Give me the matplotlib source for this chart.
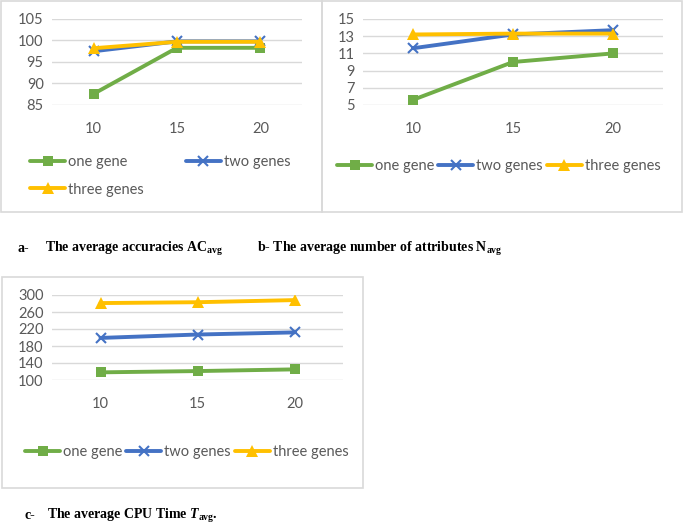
import matplotlib.pyplot as plt
from matplotlib.patches import Rectangle

plt.rcParams['font.family'] = ['Lato', 'DejaVu Sans']
plt.rcParams['mathtext.fontset'] = 'custom'
plt.rcParams['mathtext.rm'] = 'Liberation Serif:bold'
plt.rcParams['mathtext.bf'] = 'Liberation Serif:bold'
plt.rcParams['mathtext.it'] = 'Liberation Serif:bold:italic'

# Data
x_labels = ['10', '15', '20']
series_names = ['one gene', 'two genes', 'three genes']

acc_one = [87.6, 98.3, 98.3]
acc_two = [97.5, 99.8, 99.8]
acc_three = [98.2, 99.7, 99.7]

attr_one = [5.6, 10.0, 11.0]
attr_two = [11.6, 13.2, 13.7]
attr_three = [13.2, 13.3, 13.3]

cpu_one = [118, 121, 125]
cpu_two = [199, 207, 212]
cpu_three = [281, 283, 288]

GREEN = '#70AD47'
BLUE = '#4472C4'
YELLOW = '#FFC000'
GRID = '#D9D9D9'
TICK = '#595959'

W, H = 685, 525
fig = plt.figure(figsize=(W / 100, H / 100), dpi=100)


def px_axes(x0, y0, x1, y1):
    # pixel box (top-left origin) -> figure axes
    return fig.add_axes([x0 / W, 1 - y1 / H, (x1 - x0) / W, (y1 - y0) / H])


def px_box(x0, y0, x1, y1):
    fig.patches.append(Rectangle((x0 / W, 1 - y1 / H), (x1 - x0) / W, (y1 - y0) / H,
                                 transform=fig.transFigure, fill=False,
                                 edgecolor=GRID, linewidth=1.2))


def draw_panel(ax, data, yticks):
    pos = [0, 1, 2]
    styles = [(GREEN, 's', 7), (BLUE, 'x', 7), (YELLOW, '^', 8)]
    handles = []
    for vals, name, (c, m, ms) in zip(data, series_names, styles):
        h, = ax.plot(pos, vals, color=c, linewidth=2.8, marker=m, markersize=ms,
                     markerfacecolor=c, markeredgecolor=c,
                     markeredgewidth=1.5 if m == 'x' else 0, label=name,
                     solid_capstyle='round', zorder=3)
        handles.append(h)
    ax.set_xlim(-0.5, 2.5)
    ax.set_ylim(yticks[0], yticks[-1])
    ax.set_yticks(yticks)
    ax.set_xticks(pos)
    ax.set_xticklabels(x_labels)
    ax.grid(axis='y', color=GRID, linewidth=1)
    ax.set_axisbelow(True)
    for s in ax.spines.values():
        s.set_visible(False)
    ax.tick_params(length=0, labelsize=10.5, colors=TICK, pad=6)
    ax.tick_params(axis='x', pad=12)
    ax.patch.set_alpha(0)
    return handles


def add_legend(handles, labels, ncol, x, y, colsp, rowsp=0.5):
    fig.legend(handles, labels, ncol=ncol, loc='center left',
               bbox_to_anchor=(x / W, 1 - y / H), frameon=False, fontsize=10.5,
               handlelength=2.4, handletextpad=0.2, columnspacing=colsp,
               labelspacing=rowsp, labelcolor=TICK, borderpad=0, borderaxespad=0)


# panel a
px_box(1, 1, 322, 212)
ax_a = px_axes(52, 19, 302, 105)
h = draw_panel(ax_a, [acc_one, acc_two, acc_three], [85, 90, 95, 100, 105])
add_legend([h[0], h[2], h[1]], [series_names[0], series_names[2], series_names[1]],
           2, 30, 176, 2.9, 0.9)

# panel b
px_box(322, 1, 682, 212)
ax_b = px_axes(363, 19, 663, 105)
h = draw_panel(ax_b, [attr_one, attr_two, attr_three], [5, 7, 9, 11, 13, 15])
add_legend(h, series_names, 3, 337, 166, 0.27)

# panel c
px_box(2, 277, 363, 488)
ax_c = px_axes(52, 295, 343, 380)
h = draw_panel(ax_c, [cpu_one, cpu_two, cpu_three], [100, 140, 180, 220, 260, 300])
add_legend(h, series_names, 3, 25, 452, 0.27)

# captions
cap = dict(family='Liberation Serif', fontweight='bold', fontsize=10, va='baseline')
fig.text(18 / W, 1 - 252 / H, 'a-', **cap)
fig.text(45 / W, 1 - 252 / H, r'The average accuracies AC$_{\mathrm{avg}}$', **cap)
fig.text(257 / W, 1 - 252 / H, r'b- The average number of attributes N$_{\mathrm{avg}}$', **cap)
fig.text(25 / W, 1 - 519 / H, 'c-', **cap)
fig.text(47 / W, 1 - 519 / H, r'The average CPU Time $T_{\mathrm{avg}}$.', **cap)

fig.savefig('out.png', dpi=100)
